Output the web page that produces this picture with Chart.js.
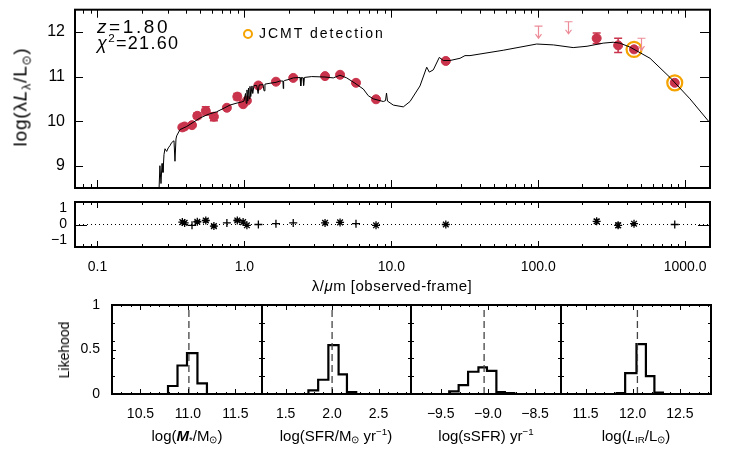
<!DOCTYPE html>
<html>
<head>
<meta charset="utf-8">
<script src="https://cdn.jsdelivr.net/npm/chart.js@4.4.1/dist/chart.umd.min.js"></script>
<style>
  body { margin: 0; background: #fff; }
  #wrap { position: relative; width: 747px; height: 449px; overflow: hidden;
          font-family: "Liberation Sans", Arial, sans-serif; color: #000; }
  canvas { position: absolute; left: 0; }
  .lbl { position: absolute; white-space: nowrap; line-height: 1; }
  .c { transform: translate(-50%, -50%); }
  .r { transform: translate(-50%, -50%) rotate(-90deg); }
  sub { font-size: 0.65em; vertical-align: -0.3em; line-height: 0; }
  sup { font-size: 0.65em; vertical-align: 0.6em; line-height: 0; }
</style>
</head>
<body>
<div id="wrap">
  <canvas id="sed" width="747" height="200" style="top:0"></canvas>
  <canvas id="res" width="747" height="105" style="top:195px"></canvas>
  <canvas id="h0" width="747" height="164" style="top:285px"></canvas>
  <canvas id="h1" width="747" height="164" style="top:285px"></canvas>
  <canvas id="h2" width="747" height="164" style="top:285px"></canvas>
  <canvas id="h3" width="747" height="164" style="top:285px"></canvas>

  <div class="lbl r" style="left:20px;top:97px;font-size:19px;letter-spacing:0.8px">log(λ<i>L</i><sub>λ</sub>/L<sub>⊙</sub>)</div>
  <div class="lbl" style="left:97px;top:17px;font-size:19px;letter-spacing:2.6px"><i>z</i>=1.80</div>
  <div class="lbl" style="left:97px;top:34px;font-size:18px;letter-spacing:1.3px"><i>χ</i><sup>2</sup>=21.60</div>
  <div class="lbl" style="left:243px;top:29px;width:10px;height:10px;border:2px solid #f5a300;border-radius:50%;box-sizing:border-box"></div>
  <div class="lbl" style="left:259px;top:26px;font-size:14px;letter-spacing:2px">JCMT detection</div>
  <div class="lbl c" style="left:392px;top:285px;font-size:15px;letter-spacing:0.5px">λ/<i>μ</i>m [observed-frame]</div>
  <div class="lbl r" style="left:64px;top:350px;font-size:14px">Likehood</div>
  <div class="lbl c" style="left:187px;top:435px;font-size:15px">log(<b><i>M</i></b><sub>*</sub>/M<sub>⊙</sub>)</div>
  <div class="lbl c" style="left:336px;top:435px;font-size:15px">log(SFR/M<sub>⊙</sub> yr<sup>−1</sup>)</div>
  <div class="lbl c" style="left:486px;top:435px;font-size:15px">log(sSFR) yr<sup>−1</sup></div>
  <div class="lbl c" style="left:636px;top:435px;font-size:15px">log(<i>L</i><sub>IR</sub>/L<sub>⊙</sub>)</div>
</div>
<script>
'use strict'

// best-fit model SED, observed-frame wavelength (micron) and log(lambda L_lambda / Lsun)
const modelLam = [0.262, 0.266, 0.2706, 0.2749, 0.2792, 0.2836, 0.288, 0.2958, 0.3034, 0.3115,
  0.3199, 0.3317, 0.3369, 0.3422, 0.346, 0.3644, 0.4046, 0.4467, 0.4985, 0.5651,
  0.6477, 0.7149, 0.798, 0.8766, 0.9585, 0.9938, 1.0174, 1.03, 1.0416, 1.055,
  1.0663, 1.08, 1.0917, 1.105, 1.1264, 1.14, 1.1623, 1.2127, 1.24, 1.26,
  1.339, 1.36, 1.38, 1.494, 1.641, 1.747, 1.83, 1.84, 1.85, 1.87,
  1.981, 2.152, 2.391, 2.42, 2.45, 2.506, 2.53, 2.56, 2.872, 3.538,
  4.029, 4.476, 4.971, 5.66, 6.448, 6.973, 7.544, 8.822, 9.13, 9.276,
  9.42, 10.32, 12.07, 13.41, 15.68, 17.42, 18.14, 19.31, 21.22, 22.59,
  25.09, 29.36, 31.74, 34.33, 57.8, 97.7, 127, 173, 215, 277,
  324, 360, 422, 577, 789, 1079, 1476]
const modelLum = [8.40, 9.00, 8.60, 9.05, 8.85, 9.25, 9.38, 9.32, 9.40, 9.45,
  9.52, 9.56, 9.10, 9.60, 9.67, 9.81, 9.88, 9.97, 10.07, 10.15,
  10.21, 10.28, 10.36, 10.40, 10.43, 10.45, 10.62, 10.40, 10.70, 10.45,
  10.74, 10.50, 10.78, 10.55, 10.79, 10.62, 10.80, 10.80, 10.62, 10.81,
  10.82, 10.68, 10.83, 10.85, 10.87, 10.90, 10.90, 10.73, 10.90, 10.91,
  10.93, 10.97, 10.98, 10.79, 10.98, 10.97, 10.80, 10.98, 11.00, 10.99,
  10.97, 11.03, 10.97, 10.85, 10.72, 10.57, 10.50, 10.44, 10.46, 10.63,
  10.45, 10.36, 10.32, 10.44, 10.79, 11.21, 11.10, 11.15, 11.43, 11.36,
  11.36, 11.41, 11.47, 11.47, 11.59, 11.73, 11.71, 11.65, 11.68, 11.75,
  11.77, 11.75, 11.66, 11.41, 10.98, 10.50, 9.96]

// photometry
const photLam = [0.378, 0.392, 0.44, 0.478, 0.546, 0.62, 0.76, 0.895, 0.98, 1.04, 1.245,
  1.64, 2.15, 3.54, 4.48, 5.75, 7.87, 23.5, 250, 350, 449, 850]
const photLum = [9.86, 9.88, 9.91, 10.12, 10.23, 10.10, 10.30, 10.55, 10.38, 10.46, 10.80,
  10.885, 10.97, 11.01, 11.04, 10.86, 10.49, 11.35, 11.86, 11.70, 11.61, 10.86]
const photErr = [0.03, 0.03, 0.03, 0.06, 0.09, 0.09, 0.03, 0.07, 0.03, 0.03, 0.03,
  0.03, 0.03, 0.03, 0.03, 0.03, 0.03, 0.03, 0.12, 0.16, 0.04, 0.04]

// JCMT detections (850 and 450 micron)
const jcmtLam = [449, 850]
const jcmtLum = [11.61, 10.86]

// upper limits
const limLam = [100, 160, 500]
const limLum = [12.13, 12.23, 11.86]

// residuals
const resid = [0.15, 0.10, -0.05, 0.17, 0.25, -0.10, 0.10, 0.25, 0.15, -0.05, 0.0,
  0.05, 0.10, 0.10, 0.13, 0.05, -0.05, 0.0, 0.20, -0.05, 0.05, 0.0]
const residErr = [0, 0, 0, 0.06, 0.1, 0.06, 0, 0.08, 0, 0, 0,
  0, 0, 0, 0, 0, 0, 0, 0.12, 0.15, 0, 0]

// likelihood distributions: bin edges and heights, median
const massEdges = [10.79, 10.89, 10.99, 11.10, 11.20]
const massLike = [0.09, 0.32, 0.46, 0.12]
const massMed = 11.01
const sfrEdges = [1.745, 1.85, 1.96, 2.07, 2.16, 2.26]
const sfrLike = [0.04, 0.16, 0.55, 0.22, 0.02]
const sfrMed = 2.0
const ssfrEdges = [-9.41, -9.31, -9.21, -9.10, -9.01, -8.91, -8.82, -8.72]
const ssfrLike = [0.03, 0.10, 0.25, 0.30, 0.26, 0.02, 0.01]
const ssfrMed = -9.04
const lirEdges = [11.83, 11.92, 12.04, 12.14, 12.23, 12.32]
const lirLike = [0.01, 0.235, 0.56, 0.20, 0.015]
const lirMed = 12.05

// tick labels
const sedYTicks = [9, 10, 11, 12]
const lamTicks = [0.1, 1, 10, 100, 1000]
const resYTicks = [-1, 0, 1]
const likeTicks = [0, 0.5, 1]
const massTicks = [10.5, 11.0, 11.5]
const sfrTicks = [1.5, 2.0, 2.5]
const ssfrTicks = [-9.5, -9.0, -8.5]
const lirTicks = [11.5, 12.0, 12.5]

const RED = '#c9334b'
const PINK = '#ec8c98'
const ORANGE = '#f5a300'
const FONT = 'Liberation Sans'

Chart.defaults.color = '#000'
Chart.defaults.font.family = FONT

const lamMin = 0.0703, lamMax = 1477
const lamMinor = []
;[0.01, 0.1, 1, 10, 100, 1000].forEach(d => { for (let k = 2; k <= 9; k++) lamMinor.push(k * d) })

const minus = v => (v < 0 ? '\u2212' + Math.abs(v) : String(v))

// black box plus inward tick marks, placed through the chart's scales
const framePlugin = {
  id: 'frame',
  afterDraw(chart, args, o) {
    const { ctx, chartArea: a } = chart
    const xs = chart.scales.x, ys = chart.scales.y
    ctx.save()
    ctx.strokeStyle = '#000'
    ctx.lineWidth = 1
    ;(o.x || []).forEach(([vals, len]) => vals.forEach(v => {
      const px = Math.round(xs.getPixelForValue(v)) + 0.5
      if (px < a.left + 2 || px > a.right - 2) return
      ctx.beginPath()
      ctx.moveTo(px, a.bottom); ctx.lineTo(px, a.bottom - len)
      ctx.moveTo(px, a.top); ctx.lineTo(px, a.top + len)
      ctx.stroke()
    }))
    ;(o.yl || []).forEach(([vals, len]) => vals.forEach(v => {
      const py = Math.round(ys.getPixelForValue(v)) + 0.5
      ctx.beginPath(); ctx.moveTo(a.left, py); ctx.lineTo(a.left + len, py); ctx.stroke()
    }))
    ;(o.yr || []).forEach(([vals, len]) => vals.forEach(v => {
      const py = Math.round(ys.getPixelForValue(v)) + 0.5
      ctx.beginPath(); ctx.moveTo(a.right, py); ctx.lineTo(a.right - len, py); ctx.stroke()
    }))
    ctx.lineWidth = 2
    ctx.strokeRect(a.left, a.top, a.right - a.left, a.bottom - a.top)
    ctx.restore()
  }
}

// vertical error bars with caps
const errPlugin = {
  id: 'errbars',
  beforeDatasetsDraw(chart, args, o) {
    if (!o.x) return
    const { ctx } = chart
    const xs = chart.scales.x, ys = chart.scales.y
    ctx.save()
    ctx.strokeStyle = o.color
    ctx.lineWidth = o.width || 1.5
    o.x.forEach((xv, i) => {
      if (!o.e[i]) return
      const px = xs.getPixelForValue(xv)
      const y1 = ys.getPixelForValue(o.y[i] - o.e[i])
      const y2 = ys.getPixelForValue(o.y[i] + o.e[i])
      ctx.beginPath()
      ctx.moveTo(px, y1); ctx.lineTo(px, y2)
      ctx.moveTo(px - o.cap, y1); ctx.lineTo(px + o.cap, y1)
      ctx.moveTo(px - o.cap, y2); ctx.lineTo(px + o.cap, y2)
      ctx.stroke()
    })
    ctx.restore()
  }
}

// downward arrows for upper limits
const limPlugin = {
  id: 'limits',
  afterDatasetsDraw(chart, args, o) {
    if (!o.x) return
    const { ctx } = chart
    const xs = chart.scales.x, ys = chart.scales.y
    ctx.save()
    ctx.strokeStyle = o.color
    ctx.lineWidth = 1.2
    o.x.forEach((xv, i) => {
      const px = Math.round(xs.getPixelForValue(xv)) + 0.5
      const py = ys.getPixelForValue(o.y[i])
      ctx.beginPath()
      ctx.moveTo(px - 4, py); ctx.lineTo(px + 4, py)
      ctx.moveTo(px, py); ctx.lineTo(px, py + 12)
      ctx.moveTo(px - 3, py + 8); ctx.lineTo(px, py + 12); ctx.lineTo(px + 3, py + 8)
      ctx.stroke()
    })
    ctx.restore()
  }
}

const xy = (xs, ys) => xs.map((x, i) => ({ x: x, y: ys[i] }))

// ---------- SED panel ----------
new Chart(document.getElementById('sed'), {
  type: 'scatter',
  data: {
    datasets: [
      { data: xy(modelLam, modelLum), showLine: true, borderColor: '#000', borderWidth: 1,
        pointRadius: 0, tension: 0 },
      { data: xy(photLam, photLum), pointRadius: 4.5, pointStyle: 'circle',
        backgroundColor: RED, borderColor: RED, borderWidth: 1 },
      { data: xy(jcmtLam, jcmtLum), pointRadius: 7.5, pointStyle: 'circle',
        backgroundColor: 'rgba(0,0,0,0)', borderColor: ORANGE, borderWidth: 2.2 }
    ]
  },
  options: {
    responsive: false, animation: false, events: [],
    layout: { padding: { top: 4, right: 37, left: 0, bottom: 0 } },
    plugins: {
      legend: { display: false }, tooltip: { enabled: false },
      frame: { x: [[lamTicks, 8], [lamMinor, 4]], yl: [[sedYTicks, 8]], yr: [[sedYTicks, 10]] },
      errbars: { x: photLam, y: photLum, e: photErr, color: RED, cap: 4 },
      limits: { x: limLam, y: limLum, color: PINK }
    },
    scales: {
      x: {
        type: 'logarithmic', min: lamMin, max: lamMax,
        grid: { display: false, drawTicks: false }, border: { display: false },
        ticks: { display: false },
        afterFit: s => { s.height = 12; s.paddingLeft = 0; s.paddingRight = 0 }
      },
      y: {
        min: 8.5, max: 12.5,
        grid: { display: false, drawTicks: false }, border: { display: false },
        afterBuildTicks: s => { s.ticks = sedYTicks.map(v => ({ value: v })) },
        ticks: { font: { size: 16 }, padding: 10 },
        afterFit: s => { s.width = 75; s.paddingTop = 0; s.paddingBottom = 0 }
      }
    }
  },
  plugins: [framePlugin, errPlugin, limPlugin]
})

// ---------- residual panel ----------
const resStyles = ['star', 'star', 'cross', 'star', 'star', 'star', 'cross', 'star', 'star', 'star', 'cross',
  'cross', 'cross', 'star', 'star', 'cross', 'star', 'star', 'star', 'star', 'star', 'cross']

new Chart(document.getElementById('res'), {
  type: 'scatter',
  data: {
    datasets: [
      { data: [{ x: lamMin, y: 0 }, { x: lamMax, y: 0 }], showLine: true, borderColor: '#000',
        borderWidth: 1, borderDash: [1, 3], pointRadius: 0 },
      { data: xy(photLam, resid), pointStyle: resStyles, pointRadius: 4,
        borderColor: '#000', borderWidth: 1.3, backgroundColor: '#000' }
    ]
  },
  options: {
    responsive: false, animation: false, events: [],
    layout: { padding: { top: 7, right: 37, left: 0, bottom: 0 } },
    plugins: {
      legend: { display: false }, tooltip: { enabled: false },
      frame: { x: [[lamTicks, 6], [lamMinor, 3]], yl: [[[0], 12]], yr: [[[0], 12]] },
      errbars: { x: photLam, y: resid, e: residErr, color: '#000', cap: 3, width: 1 }
    },
    scales: {
      x: {
        type: 'logarithmic', min: lamMin, max: lamMax,
        grid: { display: false, drawTicks: false }, border: { display: false },
        afterBuildTicks: s => { s.ticks = lamTicks.map(v => ({ value: v })) },
        ticks: { font: { size: 14 }, padding: 12, autoSkip: false, maxRotation: 0,
          callback: v => Number(v).toFixed(1) },
        afterFit: s => { s.height = 53; s.paddingLeft = 0; s.paddingRight = 0 }
      },
      y: {
        min: -1.4, max: 1.4,
        grid: { display: false, drawTicks: false }, border: { display: false },
        afterBuildTicks: s => { s.ticks = resYTicks.map(v => ({ value: v })) },
        ticks: { font: { size: 14 }, padding: 8, callback: v => minus(v) },
        afterFit: s => { s.width = 75; s.paddingTop = 0; s.paddingBottom = 0 }
      }
    }
  },
  plugins: [framePlugin, errPlugin]
})

// ---------- likelihood panels ----------
const panels = [
  { id: 'h0', x0: 112, x1: 262, range: [10.2, 11.78], edges: massEdges, like: massLike, med: massMed, ticks: massTicks },
  { id: 'h1', x0: 262, x1: 411, range: [1.245, 2.85], edges: sfrEdges, like: sfrLike, med: sfrMed, ticks: sfrTicks },
  { id: 'h2', x0: 411, x1: 561, range: [-9.815, -8.225], edges: ssfrEdges, like: ssfrLike, med: ssfrMed, ticks: ssfrTicks },
  { id: 'h3', x0: 561, x1: 711, range: [11.24, 12.83], edges: lirEdges, like: lirLike, med: lirMed, ticks: lirTicks }
]

panels.forEach((p, k) => {
  const steps = [{ x: p.edges[0], y: 0 }]
  p.like.forEach((h, i) => steps.push({ x: p.edges[i], y: h }))
  steps.push({ x: p.edges[p.edges.length - 1], y: 0 })
  const minor = []
  for (let v = Math.ceil(p.range[0] * 10) / 10; v < p.range[1]; v += 0.1) minor.push(v)
  const first = k === 0
  new Chart(document.getElementById(p.id), {
    type: 'scatter',
    data: {
      datasets: [
        { data: [{ x: p.med, y: 0 }, { x: p.med, y: 1 }], showLine: true, borderColor: '#444',
          borderWidth: 1.3, borderDash: [7, 4], pointRadius: 0 },
        { data: steps, showLine: true, stepped: true, borderColor: '#000', borderWidth: 2.2,
          pointRadius: 0 }
      ]
    },
    options: {
      responsive: false, animation: false, events: [],
      layout: { padding: { top: 20, right: 747 - p.x1, left: first ? 0 : p.x0, bottom: 0 } },
      plugins: {
        legend: { display: false }, tooltip: { enabled: false },
        frame: {
          x: [[p.ticks, 5], [minor, 2]],
          yl: first ? [[likeTicks, 4], [[0.2, 0.4, 0.6, 0.8], 3]] : [[[0.2, 0.4, 0.6, 0.8], 3]],
          yr: [[[0.2, 0.4, 0.6, 0.8], 3]]
        }
      },
      scales: {
        x: {
          type: 'linear', min: p.range[0], max: p.range[1],
          grid: { display: false, drawTicks: false }, border: { display: false },
          afterBuildTicks: s => { s.ticks = p.ticks.map(v => ({ value: v })) },
          ticks: { font: { size: 14 }, padding: 12, autoSkip: false, maxRotation: 0,
            callback: v => (v < 0 ? '\u2212' + Math.abs(v).toFixed(1) : Number(v).toFixed(1)) },
          afterFit: s => { s.height = 55; s.paddingLeft = 0; s.paddingRight = 0 }
        },
        y: {
          display: first, min: 0, max: 1,
          grid: { display: false, drawTicks: false }, border: { display: false },
          afterBuildTicks: s => { s.ticks = likeTicks.map(v => ({ value: v })) },
          ticks: { font: { size: 14 }, padding: 12, callback: v => String(v) },
          afterFit: s => { s.width = first ? 112 : 0; s.paddingTop = 0; s.paddingBottom = 0 }
        }
      }
    },
    plugins: [framePlugin]
  })
})
</script>
</body>
</html>
